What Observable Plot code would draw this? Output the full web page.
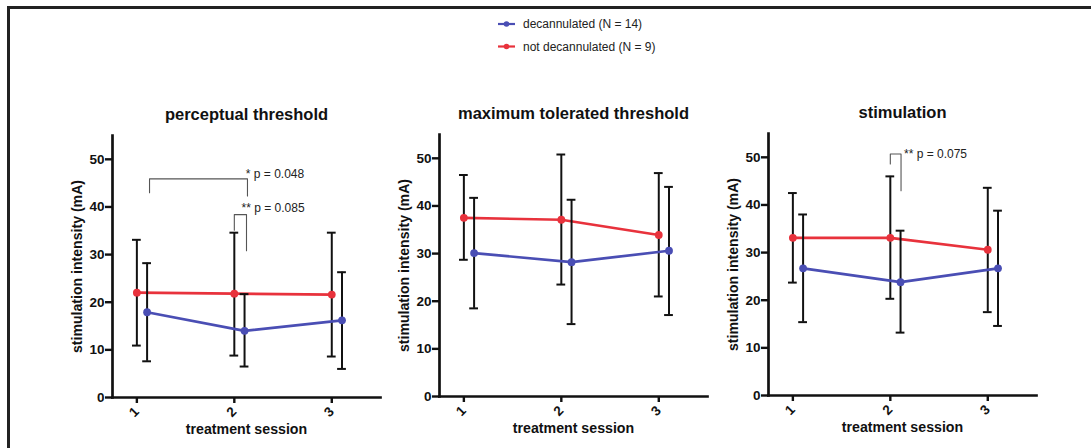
<!DOCTYPE html>
<html><head><meta charset="utf-8">
<script src="https://cdn.jsdelivr.net/npm/d3@7"></script>
<script src="https://cdn.jsdelivr.net/npm/@observablehq/plot@0.6"></script>
<style>
body{margin:0;background:#fff;}
#root{position:relative;width:1091px;height:448px;overflow:hidden;font-family:"Liberation Sans",Arial,sans-serif;background:#fff;}
.frame-top{position:absolute;left:7px;top:6px;width:1084px;height:2.5px;background:#222;}
.frame-left{position:absolute;left:7px;top:6px;width:2.5px;height:442px;background:#222;}
.panel{position:absolute;top:0;}
#legend{position:absolute;left:0;top:0;}
</style></head><body>
<div id="root"><div class="frame-top"></div><div class="frame-left"></div></div>
<script>
// ---------- data ----------
const sessions = [1, 2, 3];
const groups = ["decannulated (N = 14)", "not decannulated (N = 9)"];
const panelTitles = ["perceptual threshold", "maximum tolerated threshold", "stimulation"];
const yTicks = [0, 10, 20, 30, 40, 50];
const xLabel = "treatment session";
const yLabel = "stimulation intensity (mA)";

// decannulated (blue): mean and error-bar ends per panel, per session
const decMean = [[17.9, 14.0, 16.2], [30.1, 28.2, 30.6], [26.7, 23.8, 26.7]];
const decLow  = [[7.6, 6.5, 6.0],   [18.5, 15.2, 17.1], [15.4, 13.2, 14.6]];
const decHigh = [[28.2, 21.7, 26.3], [41.7, 41.3, 44.0], [38.0, 34.6, 38.8]];
// not decannulated (red)
const notMean = [[22.0, 21.8, 21.6], [37.5, 37.1, 33.9], [33.1, 33.1, 30.6]];
const notLow  = [[10.9, 8.8, 8.6],  [28.7, 23.5, 21.0], [23.7, 20.3, 17.5]];
const notHigh = [[33.1, 34.6, 34.6], [46.5, 50.8, 46.9], [42.5, 46.0, 43.6]];

// significance annotations (panel index, bracket ends, heights, text)
const annPanel    = [0, 0, 2];
const annX1       = [1.13, 2.0, 2.0];
const annX2       = [2.135, 2.125, 2.11];
const annTop      = [45.9, 38.4, 50.7];
const annLeftEnd  = [43.0, 35.1, 48.6];
const annRightEnd = [42.3, 30.8, 43.0];
const annText     = ["* p = 0.048", "** p = 0.085", "** p = 0.075"];
const annTextX    = [2.118, 2.074, 2.14];
const annTextY    = [46.8, 39.8, 50.7];

// ---------- style ----------
const colors = {[groups[0]]: "#4a4eb4", [groups[1]]: "#e8323c"};
const offsets = {[groups[0]]: 0.105, [groups[1]]: 0};
const cap = 0.045;
const font = "'Liberation Sans', Arial, sans-serif";
const xDomain = [0.75, 3.5];
const yDomain = [0, 55];
const panelLeft = [0, 327.3, 655.7];
const panelTop = [0, -0.6, -1.8];

function rowsFor(p) {
  const out = [];
  sessions.forEach((s, i) => {
    out.push({group: groups[1], x: s + offsets[groups[1]], mean: notMean[p][i], lo: notLow[p][i], hi: notHigh[p][i]});
  });
  sessions.forEach((s, i) => {
    out.push({group: groups[0], x: s + offsets[groups[0]], mean: decMean[p][i], lo: decLow[p][i], hi: decHigh[p][i]});
  });
  return out;
}

function layer(data, color) {
  return [
    Plot.line(data, {x: "x", y: "mean", stroke: color, strokeWidth: 2.7}),
    Plot.ruleX(data, {x: "x", y1: "lo", y2: "hi", stroke: "#111", strokeWidth: 2}),
    Plot.ruleY(data, {y: "lo", x1: d => d.x - cap, x2: d => d.x + cap, stroke: "#111", strokeWidth: 2}),
    Plot.ruleY(data, {y: "hi", x1: d => d.x - cap, x2: d => d.x + cap, stroke: "#111", strokeWidth: 2}),
    Plot.dot(data, {x: "x", y: "mean", r: 3.9, fill: color, stroke: null})
  ];
}

function annotationMarks(p) {
  const idx = annPanel.map((q, i) => q === p ? i : -1).filter(i => i >= 0);
  const marks = [];
  idx.forEach(i => {
    const pts = [
      {x: annX1[i], y: annLeftEnd[i]},
      {x: annX1[i], y: annTop[i]},
      {x: annX2[i], y: annTop[i]},
      {x: annX2[i], y: annRightEnd[i]}
    ];
    marks.push(Plot.line(pts, {x: "x", y: "y", stroke: "#555", strokeWidth: 1.1, curve: "linear"}));
    marks.push(Plot.text([annText[i]], {x: annTextX[i], y: annTextY[i], text: d => d, textAnchor: "start", fontSize: 12, fill: "#222"}));
  });
  return marks;
}

function panel(p) {
  const rows = rowsFor(p);
  const red = rows.filter(d => d.group === groups[1]);
  const blue = rows.filter(d => d.group === groups[0]);
  return Plot.plot({
    width: 400, height: 448,
    marginLeft: 112, marginRight: 20, marginTop: 135, marginBottom: 51,
    x: {type: "linear", domain: xDomain},
    y: {domain: yDomain},
    style: {fontFamily: font, background: "transparent", overflow: "visible", color: "#111"},
    marks: [
      Plot.axisY({ticks: yTicks, tickFormat: d => String(d), tickSize: 7, tickPadding: 1, label: null, fontSize: 13.5, fontWeight: "bold", strokeWidth: 2.4, stroke: "#111", fill: "#111"}),
      Plot.axisX({ticks: sessions, tickFormat: d => String(d), tickSize: 6, tickPadding: 6, tickRotate: -45, label: null, fontSize: 13.5, fontWeight: "bold", strokeWidth: 2.4, stroke: "#111", fill: "#111"}),
      Plot.frame({anchor: "left", stroke: "#111", strokeWidth: 2.7}),
      Plot.frame({anchor: "bottom", stroke: "#111", strokeWidth: 2.7}),
      Plot.text([panelTitles[p]], {frameAnchor: "top", dy: -27, text: d => d, fontSize: 16.5, fontWeight: "bold", fill: "#111"}),
      Plot.text([xLabel], {frameAnchor: "bottom", dy: 36, text: d => d, fontSize: 14.2, fontWeight: "bold", fill: "#111"}),
      Plot.text([yLabel], {frameAnchor: "left", dx: -35, rotate: -90, textAnchor: "middle", text: d => d, fontSize: 14.1, fontWeight: "bold", fill: "#111"}),
      ...annotationMarks(p),
      ...layer(red, colors[groups[1]]),
      ...layer(blue, colors[groups[0]])
    ]
  });
}

const root = document.getElementById("root");
panelTitles.forEach((t, p) => {
  const div = document.createElement("div");
  div.className = "panel";
  div.style.left = panelLeft[p] + "px";
  div.style.top = panelTop[p] + "px";
  div.appendChild(panel(p));
  root.appendChild(div);
});

// legend
const leg = d3.select(root).append("svg").attr("id", "legend").attr("width", 1091).attr("height", 60);
const legY = [24, 46.5];
groups.forEach((g, i) => {
  const gg = leg.append("g").attr("transform", `translate(498,${legY[i]})`);
  gg.append("line").attr("x1", 0).attr("x2", 17).attr("stroke", colors[g]).attr("stroke-width", 2.2);
  gg.append("circle").attr("cx", 8.5).attr("r", 2.8).attr("fill", colors[g]);
  gg.append("text").attr("x", 25).attr("dy", "0.35em").attr("font-family", font).attr("font-size", 12).attr("fill", "#222").text(g);
});
</script>
</body></html>
